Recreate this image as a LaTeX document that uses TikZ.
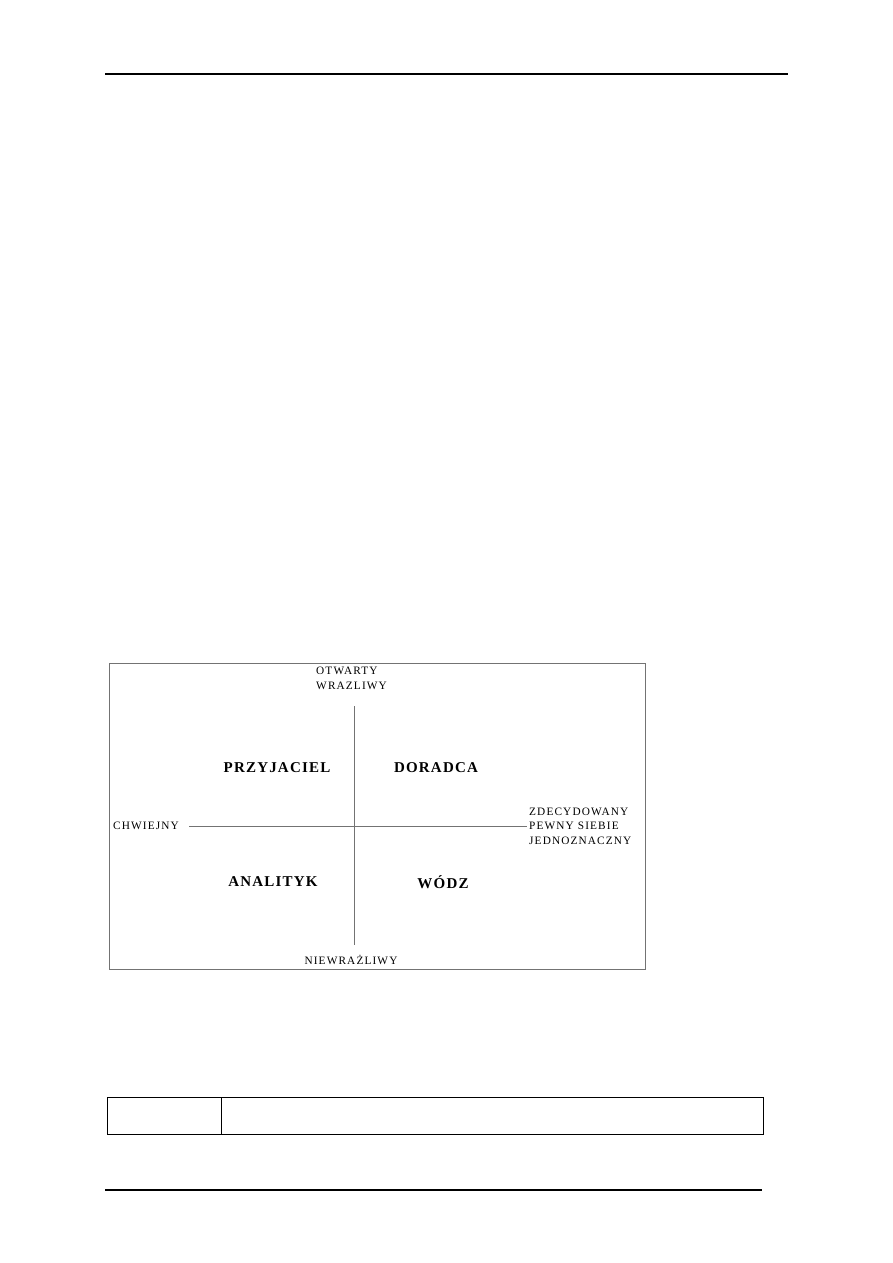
\documentclass[tikz,border=0pt]{standalone}
\usepackage{fontspec}
\setmainfont{Liberation Serif}
\newfontfamily\labfont[LetterSpace=10]{Liberation Serif}
\newfontfamily\quadfont[LetterSpace=8]{Liberation Serif}
\begin{document}
\begin{tikzpicture}[x=1pt,y=-1pt,
  rule/.style={line width=1.3pt,black},
  frame/.style={draw=black!55,line width=0.9pt},
  axis/.style={draw=black!55,line width=0.9pt},
  small/.style={font=\labfont\fontsize{11.3}{14.5}\selectfont,inner sep=0pt,align=left},
  quad/.style={font=\quadfont\fontsize{15}{17}\selectfont\bfseries,inner sep=0pt},
  tbl/.style={draw=black,line width=1pt}]
\useasboundingbox (0,0) rectangle (893,1263);
% page rules
\coordinate (tl) at (105,74); \coordinate (tr) at (788,74);
\coordinate (bl) at (105,1190); \coordinate (br) at (762,1190);
\draw[rule] (tl) -- (tr);
\draw[rule] (bl) -- (br);
% diagram frame
\node[frame,minimum width=536,minimum height=306,anchor=north west,inner sep=0pt] (box) at (109,663) {};
% axes
\coordinate (vt) at (354,706); \coordinate (vb) at (354,945);
\coordinate (hl) at (189,826); \coordinate (hr) at (527,826);
\draw[axis] (vt) -- (vb);
\draw[axis] (hl) -- (hr);
% axis labels
\node[small,anchor=west] (top) at (316,678.5) {OTWARTY\\WRAZLIWY};
\node[small,anchor=west] (left) at (113,826) {CHWIEJNY};
\node[small,anchor=west] (right) at (529,826) {ZDECYDOWANY\\PEWNY SIEBIE\\JEDNOZNACZNY};
\node[small] (bottom) at (351,960) {NIEWRAŻLIWY};
% quadrant labels
\node[quad] (q1) at (277,768) {PRZYJACIEL};
\node[quad] (q2) at (436,768) {DORADCA};
\node[quad] (q3) at (273,882) {ANALITYK};
\node[quad] (q4) at (443,882) {WÓDZ};
% bottom table
\node[tbl,minimum width=656,minimum height=37,anchor=north west,inner sep=0pt] (table) at (107,1097) {};
\coordinate (dt) at (221,1097); \coordinate (db) at (221,1134);
\draw[tbl] (dt) -- (db);
\end{tikzpicture}
\end{document}
